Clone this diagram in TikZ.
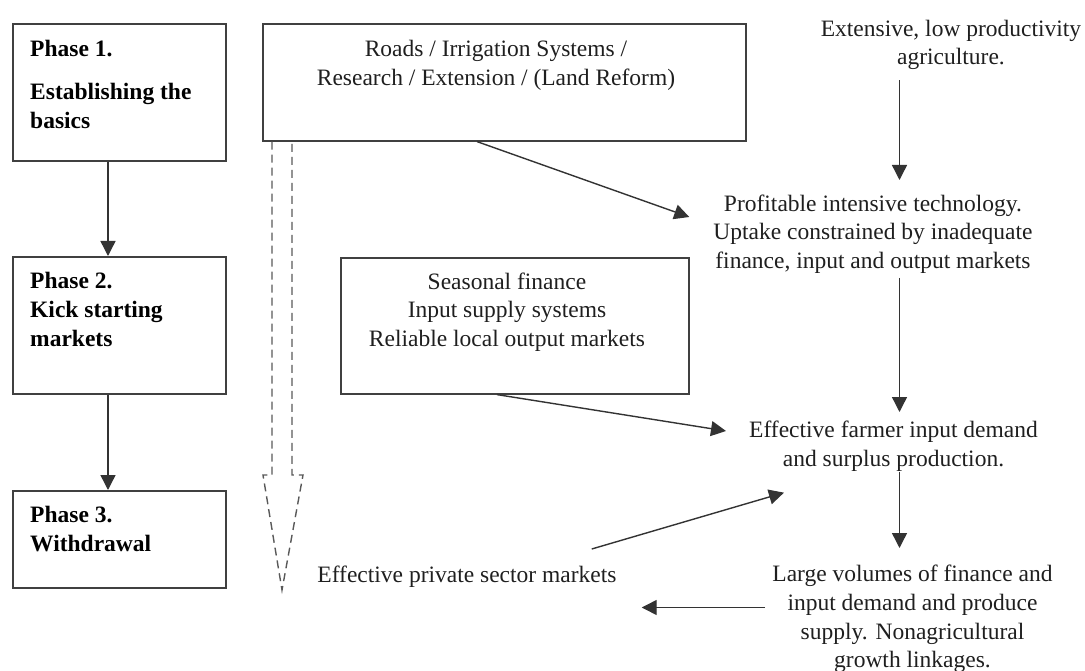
\documentclass[tikz,border=0pt]{standalone}
\usepackage{fontspec}
\setmainfont{Liberation Serif}
\usetikzlibrary{arrows.meta,calc}
\begin{document}
\begin{tikzpicture}[x=1pt,y=-1pt,
  box/.style={draw=black!75, line width=1.6pt, inner sep=0pt, anchor=north west},
  txt/.style={inner sep=0pt, align=center, anchor=north, font=\fontsize{23.5}{28.7}\selectfont, text=black!88},
  ptxt/.style={inner sep=0pt, align=left, anchor=north west, font=\fontsize{23.5}{29}\selectfont\bfseries},
  arr/.style={draw=black!80, line width=1.4pt, -{Triangle[length=15pt,width=15pt]}},
  dasharrow/.style={draw=black!65, line width=1.4pt, dash pattern=on 8pt off 5pt},
]
\useasboundingbox (0,0) rectangle (1085,671);

% phase boxes
\node[box, minimum width=213, minimum height=137] (p1) at (12,23) {};
\node[box, minimum width=213, minimum height=137] (p2) at (12,256) {};
\node[box, minimum width=213, minimum height=97] (p3) at (12,490) {};
\node[ptxt] (p1t) at (30,40) {Phase 1.\\[14pt]Establishing the\\basics};
\node[ptxt] (p2t) at (30,272) {Phase 2.\\Kick starting\\markets};
\node[ptxt] (p3t) at (30,506) {Phase 3.\\Withdrawal};

% middle boxes
\node[box, minimum width=483, minimum height=117] (roads) at (262,23) {};
\node[txt] (roadst) at (496,40) {Roads / Irrigation Systems /\\Research / Extension / (Land Reform)};
\node[box, minimum width=348, minimum height=136] (seas) at (340,257) {};
\node[txt] (seast) at (507,272.5) {Seasonal finance\\Input supply systems\\Reliable local output markets};

% right column texts
\node[txt] (ext) at (951,19.5) {Extensive, low productivity\\agriculture.};
\node[txt] (prof) at (873,194.5) {Profitable intensive technology.\\Uptake constrained by inadequate\\finance, input and output markets};
\node[txt] (eff) at (893.5,421) {Effective farmer input demand\\and surplus production.};
\node[txt] (large) at (912.5,565) {Large volumes of finance and\\input demand and produce\\supply. Nonagricultural\\growth linkages.};
\node[txt] (priv) at (467,566) {Effective private sector markets};

% helper coordinates
\coordinate (ax) at (108,0);
\coordinate (rx) at (899.5,0);
\coordinate (roadx) at (477,0);
\coordinate (seasx) at (497,0);
\coordinate (ly) at (0,607.5);
\coordinate (dl) at (272,0);
\coordinate (dr) at (292,0);

% phase arrows
\draw[arr] (p1.south -| ax) -- (p2.north -| ax);
\draw[arr] (p2.south -| ax) -- (p3.north -| ax);

% right column arrows
\draw[arr, shorten <=10.5pt, shorten >=14.5pt] (ext.south -| rx) -- (prof.north -| rx);
\draw[arr, shorten <=4pt, shorten >=9pt] (prof.south -| rx) -- (eff.north -| rx);
\draw[arr, shorten >=17pt] (eff.south -| rx) -- (large.north -| rx);
\draw[arr, shorten <=7pt, shorten >=25pt] (large.west |- ly) -- (priv.east |- ly);
\draw[arr] ($(priv.north east)+(-25,-17)$) -- ($(eff.south west)+(35,21)$);

% box arrows
\draw[arr] (roads.south -| roadx) -- ($(prof.north west)+(-24,22.5)$);
\draw[arr] (seas.south -| seasx) -- ($(eff.north west)+(-23,10)$);

% dashed hollow arrow
\draw[dasharrow] (roads.south -| dl) -- (272,475) -- (263,475) -- (282,590) -- (303,475) -- (292,475) -- (roads.south -| dr);
\end{tikzpicture}
\end{document}
